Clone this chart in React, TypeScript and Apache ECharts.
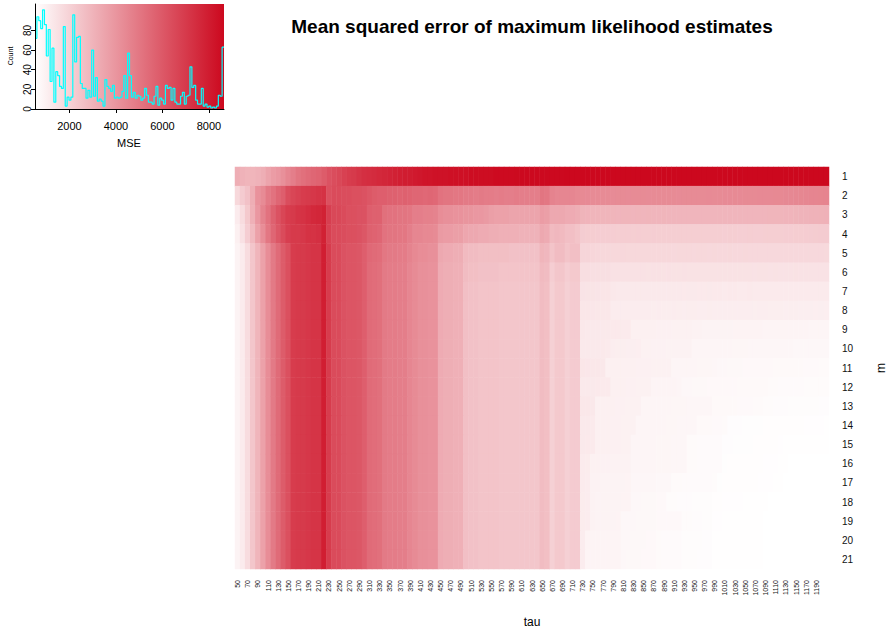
import React, { useEffect, useRef } from 'react';
import * as echarts from 'echarts';

// ---- column (tau) and row (m) labels ----
const tauValues = [
  50, 60, 70, 80, 90, 100, 110, 120, 130, 140,
  150, 160, 170, 180, 190, 200, 210, 220, 230, 240,
  250, 260, 270, 280, 290, 300, 310, 320, 330, 340,
  350, 360, 370, 380, 390, 400, 410, 420, 430, 440,
  450, 460, 470, 480, 490, 500, 510, 520, 530, 540,
  550, 560, 570, 580, 590, 600, 610, 620, 630, 640,
  650, 660, 670, 680, 690, 700, 710, 720, 730, 740,
  750, 760, 770, 780, 790, 800, 810, 820, 830, 840,
  850, 860, 870, 880, 890, 900, 910, 920, 930, 940,
  950, 960, 970, 980, 990, 1000, 1010, 1020, 1030, 1040,
  1050, 1060, 1070, 1080, 1090, 1100, 1110, 1120, 1130, 1140,
  1150, 1160, 1170, 1180, 1190, 1200, 1210,
];
const mValues = ['1', '2', '3', '4', '5', '6', '7', '8', '9', '10', '11', '12', '13', '14', '15', '16', '17', '18', '19', '20', '21'];

// ---- MSE values ----
const mseRow01 = [
  3200, 3040, 2960, 2960, 3040, 3200, 3530, 3770, 3930, 4180,
  4500, 4750, 5070, 5240, 5400, 5560, 5640, 5890, 6210, 6370,
  6540, 6780, 6940, 7020, 7190, 7350, 7430, 7510, 7590, 7670,
  7760, 7840, 7920, 8000, 8000, 8080, 8160, 8240, 8240, 8320,
  8320, 8320, 8400, 8400, 8400, 8400, 8490, 8490, 8490, 8490,
  8490, 8570, 8570, 8570, 8570, 8600, 8610, 8610, 8620, 8620,
  8620, 8630, 8630, 8630, 8630, 8640, 8640, 8640, 8640, 8640,
  8640, 8640, 8640, 8645, 8645, 8645, 8645, 8645, 8645, 8645,
  8645, 8645, 8645, 8645, 8650, 8650, 8650, 8650, 8650, 8650,
  8650, 8650, 8650, 8650, 8650, 8650, 8650, 8650, 8650, 8650,
  8650, 8650, 8650, 8650, 8650, 8650, 8650, 8650, 8650, 8650,
  8650, 8650, 8650, 8650, 8650, 8650, 8650,
];
const mseRow02 = [
  1820, 2230, 2550, 3200, 4100, 4340, 4910, 5150, 5560, 5810,
  6370, 6620, 6780, 6940, 7020, 7110, 7190, 7270, 6290, 6450,
  6450, 6370, 6370, 6290, 6290, 6210, 6050, 5890, 5810, 5810,
  5720, 5720, 5640, 5720, 5640, 5560, 5560, 5480, 5560, 5480,
  5150, 5070, 5070, 4990, 4990, 4910, 4910, 4830, 4910, 4830,
  4830, 4750, 4830, 4750, 4750, 4830, 4750, 4750, 4750, 4750,
  5070, 4990, 4590, 4500, 4500, 4500, 4500, 4420, 4380, 4360,
  4340, 4340, 4350, 4340, 4330, 4340, 4340, 4330, 4340, 4350,
  4340, 4330, 4340, 4340, 4350, 4340, 4340, 4330, 4340, 4350,
  4350, 4340, 4350, 4360, 4350, 4350, 4360, 4360, 4370, 4360,
  4370, 4380, 4380, 4390, 4400, 4400, 4410, 4420, 4430, 4440,
  4460, 4480, 4500, 4520, 4540, 4550, 4560,
];
const mseRow03 = [
  1170, 1660, 2310, 3120, 3930, 4590, 5150, 5720, 6210, 6620,
  6940, 7020, 7190, 7270, 7430, 7590, 7670, 7840, 6860, 6540,
  6540, 6450, 6290, 6290, 6210, 6210, 5810, 5720, 5720, 5240,
  5150, 5150, 5070, 5070, 4990, 4750, 4750, 4670, 4670, 4590,
  4260, 4180, 4180, 4100, 4100, 4020, 4020, 3930, 3930, 3850,
  3690, 3610, 3610, 3610, 3530, 3530, 3530, 3530, 3530, 3530,
  3770, 3690, 3370, 3370, 3370, 3280, 3280, 3200, 3000, 2980,
  2970, 2960, 2960, 2970, 2960, 2950, 2960, 2960, 2950, 2960,
  2950, 2960, 2950, 2950, 2960, 2950, 2950, 2940, 2950, 2950,
  2940, 2950, 2950, 2940, 2940, 2950, 2940, 2940, 2950, 2940,
  2940, 2950, 2940, 2950, 2950, 2960, 2960, 2970, 2980, 2990,
  3000, 3010, 3030, 3040, 3060, 3070, 3080,
];
const mseRow04 = [
  1010, 1500, 2150, 2800, 3610, 4260, 4990, 5560, 6050, 6450,
  6860, 7020, 7020, 7110, 7270, 7270, 7350, 7840, 6780, 6450,
  6450, 6370, 6290, 6290, 6210, 6050, 5720, 5640, 5560, 5150,
  5070, 5070, 4990, 4990, 4750, 4500, 4500, 4420, 4420, 4340,
  3850, 3770, 3770, 3690, 3690, 3450, 3370, 3370, 3280, 3280,
  3200, 3200, 3120, 3120, 3120, 3120, 3040, 3040, 3040, 3040,
  3370, 3280, 2800, 2880, 2800, 2630, 2630, 2470, 2200, 2180,
  2170, 2160, 2150, 2150, 2150, 2140, 2150, 2150, 2140, 2150,
  2140, 2140, 2150, 2140, 2140, 2130, 2140, 2140, 2130, 2140,
  2130, 2130, 2140, 2130, 2130, 2130, 2120, 2130, 2130, 2120,
  2120, 2130, 2120, 2120, 2130, 2130, 2140, 2140, 2150, 2160,
  2170, 2180, 2190, 2200, 2210, 2220, 2230,
];
// tau 50..720 for m = 5, 6 and for m = 7..21 (vertical stripes)
const mseRow05Left = [
  930, 1170, 1660, 2390, 2960, 3610, 4260, 4910, 5400, 5890,
  6290, 6940, 7020, 7020, 7110, 7190, 7190, 7920, 6940, 6450,
  6450, 6210, 6130, 6130, 6050, 5810, 5480, 5400, 5320, 4990,
  4910, 4910, 4830, 4830, 4590, 4420, 4260, 4260, 4180, 4180,
  3370, 3280, 3280, 3200, 3200, 2800, 2720, 2720, 2640, 2640,
  2640, 2640, 2640, 2640, 2550, 2550, 2550, 2550, 2550, 2550,
  2960, 2880, 2470, 2720, 2720, 2470, 2630, 2630,
];
const mseRow06Left = [
  930, 1170, 1660, 2390, 2960, 3610, 4260, 4910, 5400, 5890,
  6290, 6940, 7020, 7020, 7110, 7190, 7190, 7920, 6940, 6450,
  6450, 6210, 6130, 6130, 6050, 5810, 5400, 5320, 5240, 4910,
  4830, 4830, 4750, 4750, 4500, 4340, 4180, 4180, 4100, 4100,
  3280, 3200, 3200, 3120, 3120, 2720, 2640, 2640, 2550, 2550,
  2550, 2550, 2470, 2470, 2470, 2470, 2470, 2470, 2470, 2470,
  2800, 2720, 2150, 2390, 2390, 2150, 2310, 2310,
];
const mseLowerLeft = [
  930, 1170, 1660, 2390, 2960, 3610, 4260, 4910, 5400, 5890,
  6290, 6940, 7020, 7020, 7110, 7190, 7190, 7920, 6940, 6450,
  6450, 6210, 6130, 6130, 6050, 5810, 5400, 5320, 5240, 4910,
  4830, 4830, 4750, 4750, 4500, 4340, 4180, 4180, 4100, 4100,
  3280, 3200, 3200, 3120, 3120, 2630, 2550, 2550, 2470, 2470,
  2470, 2470, 2390, 2390, 2390, 2390, 2390, 2390, 2390, 2390,
  2720, 2640, 2070, 2310, 2310, 2070, 2230, 2230,
];
// tau 730..1210 for m = 5..21
const mseRow05Right = [
  1900, 1900, 1860, 1830, 1820, 1820, 1810, 1820, 1830, 1820,
  1810, 1820, 1820, 1810, 1810, 1820, 1820, 1810, 1800, 1810,
  1820, 1810, 1800, 1810, 1810, 1800, 1810, 1800, 1800, 1810,
  1800, 1800, 1810, 1800, 1790, 1800, 1800, 1790, 1800, 1790,
  1790, 1800, 1790, 1790, 1800, 1790, 1790, 1790, 1780,
];
const mseRow06Right = [
  1600, 1590, 1580, 1580, 1570, 1560,
  1510, 1510, 1500, 1500, 1510, 1500, 1500, 1490, 1500, 1500,
  1490, 1500, 1490, 1490, 1500, 1490, 1490, 1480, 1490, 1490,
  1480, 1490, 1480, 1480, 1490, 1480, 1480, 1480, 1470, 1480,
  1480, 1470, 1480, 1470, 1470, 1470, 1480, 1470, 1470, 1460,
  1470, 1460, 1460,
];
const mseRow07Right = [
  1430, 1420, 1410, 1400, 1390, 1380,
  1270, 1260, 1260, 1250, 1250, 1260, 1250, 1250, 1240, 1250,
  1240, 1250, 1240, 1240, 1230, 1240, 1240, 1230, 1230, 1240,
  1230, 1230, 1220, 1230, 1230, 1220, 1220, 1230, 1220, 1220,
  1210, 1220, 1220, 1210, 1210, 1220, 1210, 1210, 1200, 1210,
  1210, 1200, 1200,
];
const mseRow08Right = [
  1350, 1340, 1330, 1320, 1310, 1300,
  1150, 1140, 1140, 1130, 1130, 1140, 1130, 1130, 1120, 1130,
  1120, 1120, 1130, 1120, 1110, 1120, 1120, 1110, 1110, 1120,
  1110, 1100, 1110, 1110, 1100, 1100, 1110, 1100, 1090, 1100,
  1100, 1090, 1090, 1090, 1080, 1090, 1090, 1080, 1080, 1080,
  1070, 1080, 1070,
];
const mseRow09Right = [
  1270, 1260, 1250, 1250, 1240, 1240, 1230, 1230, 1220, 1210,
  1030, 1020, 1010, 1010, 1010, 1000, 1000, 1000, 990, 990, 990, 980,
  940, 940, 930, 930, 930, 920, 920, 920, 910, 910,
  910, 900, 900, 900, 890, 890, 890, 880, 880, 880,
  870, 870, 870, 860, 860, 850, 850,
];
const mseRow10Right = [
  1260, 1250, 1250, 1240, 1230, 1220,
  1100, 1090, 1090, 1080, 1080, 1070,
  980, 980, 970, 970, 970, 960, 960, 960, 950, 950,
  860, 850, 850, 850, 840, 840, 840, 840, 830, 830,
  830, 820, 820, 820, 810, 810, 810, 800, 800, 800,
  790, 790, 780, 780, 780, 770, 770,
];
const mseRow11Right = [
  1340, 1330, 1320, 1300, 1280,
  1030, 1020, 1020, 1010, 1010, 1010, 1000, 1000, 1000, 990, 990, 990, 980,
  850, 850, 840, 840, 840, 830, 830, 830, 820,
  770, 770, 760, 760, 760, 750, 750, 750, 740, 740,
  740, 730, 730, 730, 720, 720, 720, 710, 710, 710, 700, 700,
];
const mseRow12Right = [
  1260, 1250, 1240, 1230, 1220, 1200,
  1020, 1010, 1010, 1000, 1000, 990, 990, 980,
  890, 880, 880, 870, 870, 860,
  770, 770, 760, 760, 760, 750, 750, 750, 740, 740, 740, 730, 730, 730, 720, 720, 720,
  690, 690, 680, 680, 670, 670, 670, 660, 660, 650, 650, 650,
];
const mseRow13Right = [
  1320, 1300, 1270,
  1030, 1020, 1010, 1010, 1000, 1000, 990, 990, 980,
  860, 850, 850, 840, 840, 840, 830, 830, 830, 820, 820, 820, 810, 810,
  730, 730, 720, 720, 720, 710, 710, 710, 700, 700,
  650, 650, 640, 640, 640, 630, 630, 630, 620, 620, 620, 610, 610,
];
const mseRow14Right = [
  1260, 1240, 1220,
  1020, 1010, 1010, 1000, 1000, 990, 990, 980,
  860, 850, 850, 840, 840, 840, 830, 830, 820, 820, 820, 810,
  730, 720, 720, 710, 710, 700,
  610, 610, 610, 600, 600, 600, 600, 590, 590, 590, 590, 580, 580, 580, 580, 570, 570, 570, 570, 560,
];
const mseRow15Right = [
  1250, 1230, 1210,
  1020, 1010, 1010, 1000, 1000, 990, 980,
  850, 850, 840, 840, 840, 830, 830, 830, 820, 820, 810,
  690, 690, 680, 680, 680, 670, 670,
  610, 610, 600, 600, 600, 600, 590, 590, 590, 590, 580,
  570, 560, 560, 560, 550, 550, 550, 550, 540, 540,
];
const mseRow16Right = [
  1180, 1160,
  980, 980, 970, 970, 960, 960, 950, 950,
  850, 850, 840, 840, 840, 830, 830, 830, 820, 820, 810,
  690, 690, 680, 680, 670, 670, 670,
  600, 590, 590, 590, 580, 580, 580, 580, 570, 570, 570,
  540, 540, 530, 530, 530, 530, 530, 520, 520, 520,
];
const mseRow17Right = [
  1170, 1150,
  940, 940, 930, 930, 930, 920, 920, 910,
  810, 810, 800, 800, 800, 790, 790, 780,
  690, 690, 680, 680, 680, 670, 670, 670, 660,
  600, 590, 590, 590, 580, 580, 580, 580, 570, 570, 570,
  540, 540, 530, 530, 530, 530, 530, 520, 520, 520, 520,
];
const mseRow18Right = [
  1160, 1140,
  940, 930, 930, 920, 920, 920, 910, 910,
  770, 770, 760, 760, 760, 750, 750,
  650, 650, 640, 640, 640, 630, 630, 630, 620,
  580, 580, 570, 570, 570, 570, 560, 560, 560, 560, 560,
  530, 530, 530, 530, 530, 520, 520, 520, 520, 520, 520, 520,
];
const mseRow19Right = [
  1160, 1140,
  940, 930, 930, 920, 920, 910,
  780, 770, 770, 760, 760, 760, 760, 750, 750, 750, 740, 740,
  650, 650, 640, 640, 630, 630,
  570, 570, 560, 560, 560, 560, 560, 550, 550, 550,
  530, 530, 530, 530, 520, 520, 520, 520, 520, 520, 520, 520, 520,
];
const mseRow20Right = [
  1150,
  900, 890, 880, 880, 880, 870, 870,
  770, 770, 760, 760, 760, 750, 750,
  690, 680, 680, 680, 670,
  630, 620, 620, 620, 610, 610,
  560, 560, 550, 550, 550, 550, 550, 540, 540, 540,
  530, 530, 530, 520, 520, 520, 520, 520, 520, 520, 520, 520, 520,
];
const mseRow21Right = [
  1140,
  890, 890, 880, 880, 870, 870, 870,
  770, 760, 760, 760, 750, 750, 750,
  690, 680, 680, 670, 670,
  630, 620, 620, 610, 610, 610,
  560, 550, 550, 550, 550, 540, 540, 540, 540, 540,
  530, 530, 520, 520, 520, 520, 520, 520, 520, 520, 520, 520, 520,
];

// ---- colour-key histogram (counts per bin) ----
const histCounts = [
  72, 94, 90, 82, 101, 86, 54, 81, 28, 62,
  7, 38, 34, 23, 21, 84, 3, 12, 9, 12,
  96, 48, 73, 74, 26, 21, 21, 11, 19, 12,
  60, 13, 32, 8, 10, 8, 3, 30, 23, 21,
  18, 24, 11, 12, 11, 12, 18, 34, 11, 57,
  34, 12, 17, 11, 14, 13, 9, 11, 21, 14,
  7, 7, 5, 13, 23, 4, 11, 9, 5, 24,
  21, 22, 9, 21, 7, 5, 5, 13, 17, 5,
  13, 14, 43, 22, 24, 9, 5, 5, 21, 3,
  5, 2, 3, 1, 2, 1, 3, 14, 13, 63,
];
const keyTicks = [2000, 4000, 6000, 8000];
const countTicks = [0, 20, 40, 60, 80];
const mseMin = 520;
const mseMax = 8650;

const FONT = '"Liberation Sans", Arial, Helvetica, sans-serif';
const RED = '#CC081E';

export default function App() {
  const ref = useRef<HTMLDivElement>(null);

  useEffect(() => {
    if (!ref.current) return;
    const chart = echarts.init(ref.current, null, { renderer: 'svg' });

    const rows: number[][] = [
      mseRow01, mseRow02, mseRow03, mseRow04,
      mseRow05Left.concat(mseRow05Right),
      mseRow06Left.concat(mseRow06Right),
      mseLowerLeft.concat(mseRow07Right),
      mseLowerLeft.concat(mseRow08Right),
      mseLowerLeft.concat(mseRow09Right),
      mseLowerLeft.concat(mseRow10Right),
      mseLowerLeft.concat(mseRow11Right),
      mseLowerLeft.concat(mseRow12Right),
      mseLowerLeft.concat(mseRow13Right),
      mseLowerLeft.concat(mseRow14Right),
      mseLowerLeft.concat(mseRow15Right),
      mseLowerLeft.concat(mseRow16Right),
      mseLowerLeft.concat(mseRow17Right),
      mseLowerLeft.concat(mseRow18Right),
      mseLowerLeft.concat(mseRow19Right),
      mseLowerLeft.concat(mseRow20Right),
      mseLowerLeft.concat(mseRow21Right),
    ];
    const heatData: number[][] = [];
    rows.forEach((row, r) => row.forEach((v, c) => heatData.push([c, r, v])));

    const nb = histCounts.length;
    const binW = (mseMax - mseMin) / nb;
    const histLine: number[][] = [];
    for (let i = 0; i <= nb; i++) {
      histLine.push([mseMin + i * binW, histCounts[Math.min(i, nb - 1)]]);
    }

    const keyLeft = 35, keyTop = 4, keyW = 189, keyH = 105;

    chart.setOption({
      animation: false,
      textStyle: { fontFamily: FONT },
      grid: [
        { left: keyLeft, top: keyTop, width: keyW, height: keyH },
        { left: 235, top: 167, width: 594, height: 402 },
      ],
      xAxis: [
        {
          type: 'value', gridIndex: 0, min: mseMin, max: mseMax, z: 5,
          axisLine: { show: true, onZero: false, lineStyle: { color: '#000', width: 1 } },
          axisTick: { show: true, length: 4, customValues: keyTicks, lineStyle: { color: '#000' } },
          axisLabel: {
            customValues: keyTicks, fontSize: 11, color: '#000', margin: 11, fontFamily: FONT,
            formatter: (v: number) => String(v),
          },
          splitLine: { show: false },
        },
        {
          type: 'category', gridIndex: 1, data: tauValues.map(String), position: 'bottom',
          axisLine: { show: false }, axisTick: { show: false }, splitLine: { show: false },
          axisLabel: {
            rotate: 90, fontSize: 7, color: '#111', margin: 11, fontFamily: FONT,
            interval: (i: number) => i % 2 === 0 && i < 116,
          },
        },
      ],
      yAxis: [
        {
          type: 'value', gridIndex: 0, min: 0, max: 107, z: 5,
          axisLine: { show: true, lineStyle: { color: '#000', width: 1 } },
          axisTick: { show: true, length: 4, customValues: countTicks, lineStyle: { color: '#000' } },
          axisLabel: {
            customValues: countTicks, rotate: 90, fontSize: 10, color: '#000', margin: 3, fontFamily: FONT,
            formatter: (v: number) => String(v),
          },
          splitLine: { show: false },
        },
        {
          type: 'category', gridIndex: 1, data: mValues, inverse: true, position: 'right',
          axisLine: { show: false }, axisTick: { show: false }, splitLine: { show: false },
          axisLabel: { fontSize: 10, color: '#111', margin: 13, fontFamily: FONT },
        },
      ],
      visualMap: {
        type: 'continuous', show: false, seriesIndex: 0, dimension: 2,
        min: mseMin, max: mseMax,
        inRange: { color: ['#FFFFFF', RED] },
      },
      series: [
        {
          type: 'heatmap', xAxisIndex: 1, yAxisIndex: 1, data: heatData,
          progressive: 0, emphasis: { disabled: true },
          itemStyle: { borderWidth: 0 },
        },
        {
          type: 'line', xAxisIndex: 0, yAxisIndex: 0, data: histLine, step: 'end',
          symbol: 'none', silent: true, z: 3,
          lineStyle: { color: '#00FFFF', width: 1.2 },
        },
      ],
      graphic: [
        {
          type: 'rect', z: -10, silent: true,
          shape: { x: keyLeft, y: keyTop, width: keyW, height: keyH },
          style: {
            fill: new echarts.graphic.LinearGradient(0, 0, 1, 0, [
              { offset: 0, color: '#FFFFFF' },
              { offset: 1, color: RED },
            ]),
          },
        },
        {
          type: 'text', x: 532, y: 26,
          style: {
            text: 'Mean squared error of maximum likelihood estimates',
            font: `bold 19px ${FONT}`, fill: '#000', align: 'center', verticalAlign: 'middle',
          },
        },
        {
          type: 'text', x: 129, y: 143,
          style: { text: 'MSE', font: `11px ${FONT}`, fill: '#000', align: 'center', verticalAlign: 'middle' },
        },
        {
          type: 'text', x: 10, y: 56, rotation: Math.PI / 2,
          style: { text: 'Count', font: `7px ${FONT}`, fill: '#000', align: 'center', verticalAlign: 'middle' },
        },
        {
          type: 'text', x: 532, y: 622,
          style: { text: 'tau', font: `12px ${FONT}`, fill: '#000', align: 'center', verticalAlign: 'middle' },
        },
        {
          type: 'text', x: 881, y: 368, rotation: Math.PI / 2,
          style: { text: 'm', font: `12px ${FONT}`, fill: '#000', align: 'center', verticalAlign: 'middle' },
        },
      ],
    });

    return () => chart.dispose();
  }, []);

  return (
    <div
      ref={ref}
      style={{ position: 'absolute', left: 0, top: 0, width: 890, height: 631, background: '#fff' }}
    />
  );
}
